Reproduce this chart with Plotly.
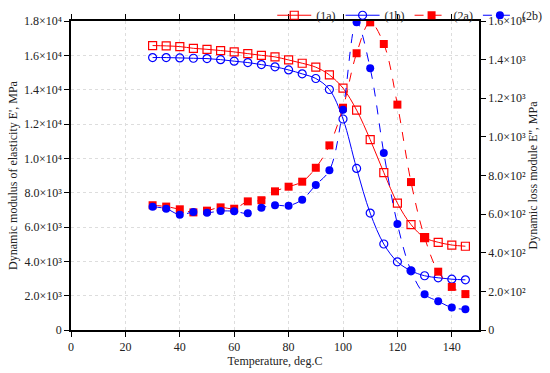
import plotly.graph_objects as go

temps = [30, 35, 40, 45, 50, 55, 60, 65, 70, 75, 80, 85, 90, 95, 100, 105, 110, 115, 120, 125, 130, 135, 140, 145]

e1a = [16570, 16550, 16510, 16410, 16350, 16280, 16200, 16100, 16000, 15910, 15730, 15540, 15310, 14860, 14090, 12810, 11090, 9170, 7390, 6140, 5380, 5110, 4950, 4880]
e1b = [15870, 15870, 15850, 15830, 15810, 15750, 15660, 15580, 15460, 15330, 15150, 14920, 14650, 14010, 12290, 9410, 6810, 5010, 3970, 3450, 3160, 3040, 2960, 2920]
e2a = [646, 639, 625, 609, 618, 635, 628, 666, 672, 718, 742, 768, 840, 956, 1151, 1433, 1593, 1481, 1167, 766, 480, 302, 223, 186]
e2b = [638, 628, 597, 611, 607, 616, 615, 604, 633, 646, 644, 675, 751, 827, 1141, 1593, 1355, 917, 549, 307, 185, 149, 116, 107]

left_ticks = [0, 2000, 4000, 6000, 8000, 10000, 12000, 14000, 16000, 18000]
left_text = ["0", "2.0×10³", "4.0×10³", "6.0×10³", "8.0×10³", "1.0×10⁴", "1.2×10⁴", "1.4×10⁴", "1.6×10⁴", "1.8×10⁴"]
right_ticks = [0, 200, 400, 600, 800, 1000, 1200, 1400, 1600]
right_text = ["0", "2.0×10²", "4.0×10²", "6.0×10²", "8.0×10²", "1.0×10³", "1.2×10³", "1.4×10³", "1.6×10³"]

RED = "#ff0000"
BLUE = "#0000ff"
FONT = "Liberation Serif"

fig = go.Figure()
fig.add_trace(go.Scatter(x=temps, y=e1a, name="(1a)", mode="lines+markers",
                         line=dict(color=RED, width=1, shape="spline"),
                         marker=dict(symbol="square-open", size=8, color=RED, line=dict(width=1.2))))
fig.add_trace(go.Scatter(x=temps, y=e1b, name="(1b)", mode="lines+markers",
                         line=dict(color=BLUE, width=1, shape="spline"),
                         marker=dict(symbol="circle-open", size=8, color=BLUE, line=dict(width=1.2))))
fig.add_trace(go.Scatter(x=temps, y=e2a, name="(2a)", mode="lines+markers", yaxis="y2",
                         line=dict(color=RED, width=1, dash="dash", shape="spline"),
                         marker=dict(symbol="square", size=8, color=RED)))
fig.add_trace(go.Scatter(x=temps, y=e2b, name="(2b)", mode="lines+markers", yaxis="y2",
                         line=dict(color=BLUE, width=1, dash="dash", shape="spline"),
                         marker=dict(symbol="circle", size=8, color=BLUE)))

axis_common = dict(showline=True, linecolor="black", linewidth=1.5, ticks="outside",
                   tickcolor="black", ticklen=5, zeroline=False, automargin=False,
                   tickfont=dict(family=FONT, size=12, color="#222"))

fig.update_layout(
    width=550, height=373,
    margin=dict(l=71, r=71, t=21, b=43, autoexpand=False),
    paper_bgcolor="white", plot_bgcolor="white",
    font=dict(family=FONT, size=12, color="#222"),
    showlegend=True,
    legend=dict(orientation="h", x=0.995, xanchor="right", xref="container",
                y=0.998, yanchor="top", yref="container",
                font=dict(family=FONT, size=12), bgcolor="rgba(0,0,0,0)",
                itemwidth=34, tracegroupgap=0),
    xaxis=dict(range=[0, 150], tickvals=[0, 20, 40, 60, 80, 100, 120, 140],
               mirror="ticks", showgrid=True, gridcolor="#dddddd", griddash="dot",
               title=dict(text="Temperature, deg.C", font=dict(family=FONT, size=12), standoff=0),
               **axis_common),
    yaxis=dict(range=[0, 18000], tickvals=left_ticks, ticktext=left_text,
               showgrid=True, gridcolor="#dddddd", griddash="dot",
               title=dict(text="Dynamic modulus of elasticity E', MPa", font=dict(family=FONT, size=12), standoff=4),
               **axis_common),
    yaxis2=dict(range=[0, 1600], tickvals=right_ticks, ticktext=right_text,
                overlaying="y", side="right", showgrid=False,
                title=dict(text="Dynamic loss module E'', MPa", font=dict(family=FONT, size=12), standoff=4),
                **axis_common),
)

fig.write_html("out.html", config={"displayModeBar": False},
               post_script="document.body.style.margin='0';document.body.style.overflow='hidden';")
